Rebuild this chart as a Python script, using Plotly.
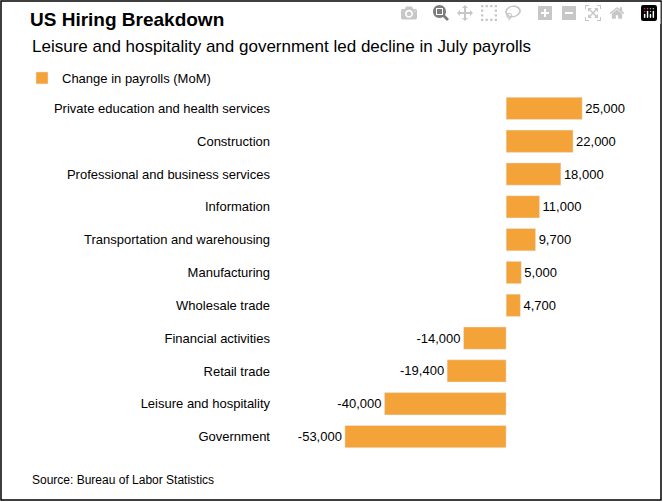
import plotly.graph_objects as go

# --- Data ---
sectors = [
    "Private education and health services", "Construction",
    "Professional and business services", "Information",
    "Transportation and warehousing", "Manufacturing", "Wholesale trade",
    "Financial activities", "Retail trade", "Leisure and hospitality", "Government",
]
changes = [25000, 22000, 18000, 11000, 9700, 5000, 4700, -14000, -19400, -40000, -53000]
labels = [f"{v:,}" for v in changes]

W, H = 663, 502
L, R, T, B = 285, 13, 92, 49
pw, ph = W - L - R, H - T - B

fig = go.Figure(go.Bar(
    x=changes, y=sectors, orientation="h",
    marker_color="#f4a338", width=0.68,
    text=labels, textposition="outside", cliponaxis=False,
    textfont=dict(size=13, color="black"),
    name="Change in payrolls (MoM)", showlegend=True,
))

fig.update_layout(
    width=W, height=H,
    margin=dict(l=L, r=R, t=T, b=B, autoexpand=False),
    plot_bgcolor="white", paper_bgcolor="white",
    font=dict(family="Liberation Sans, Arial", size=13, color="black"),
    title=dict(text="<b>US Hiring Breakdown</b>", x=30/W, xanchor="left",
               y=1-19/H, yanchor="middle", font=dict(size=19)),
    xaxis=dict(range=[-72700, 47300], visible=False),
    yaxis=dict(autorange="reversed", showgrid=False, ticks="", ticklabelstandoff=14,
               tickfont=dict(size=13)),
    legend=dict(orientation="h", xref="container", yref="container",
                x=22/W, y=1-63/H, yanchor="top", font=dict(size=13),
                itemwidth=30),
    annotations=[
        dict(text="Leisure and hospitality and government led decline in July payrolls",
             xref="paper", yref="paper", x=(30-L)/pw, y=(H-B-46)/ph,
             xanchor="left", yanchor="middle", showarrow=False, font=dict(size=17)),
        dict(text="Source: Bureau of Labor Statistics",
             xref="paper", yref="paper", x=(30-L)/pw, y=(H-B-480)/ph,
             xanchor="left", yanchor="middle", showarrow=False, font=dict(size=12)),
    ],
    shapes=[dict(type="rect", xref="paper", yref="paper",
                 x0=(1-L)/pw, x1=(W-2-L)/pw, y0=(H-B-(H-2))/ph, y1=(H-B-1)/ph,
                 line=dict(color="black", width=1.5))],
)

fig.write_html("out.html",
               post_script="document.body.style.margin='0';document.body.style.overflow='hidden';")
